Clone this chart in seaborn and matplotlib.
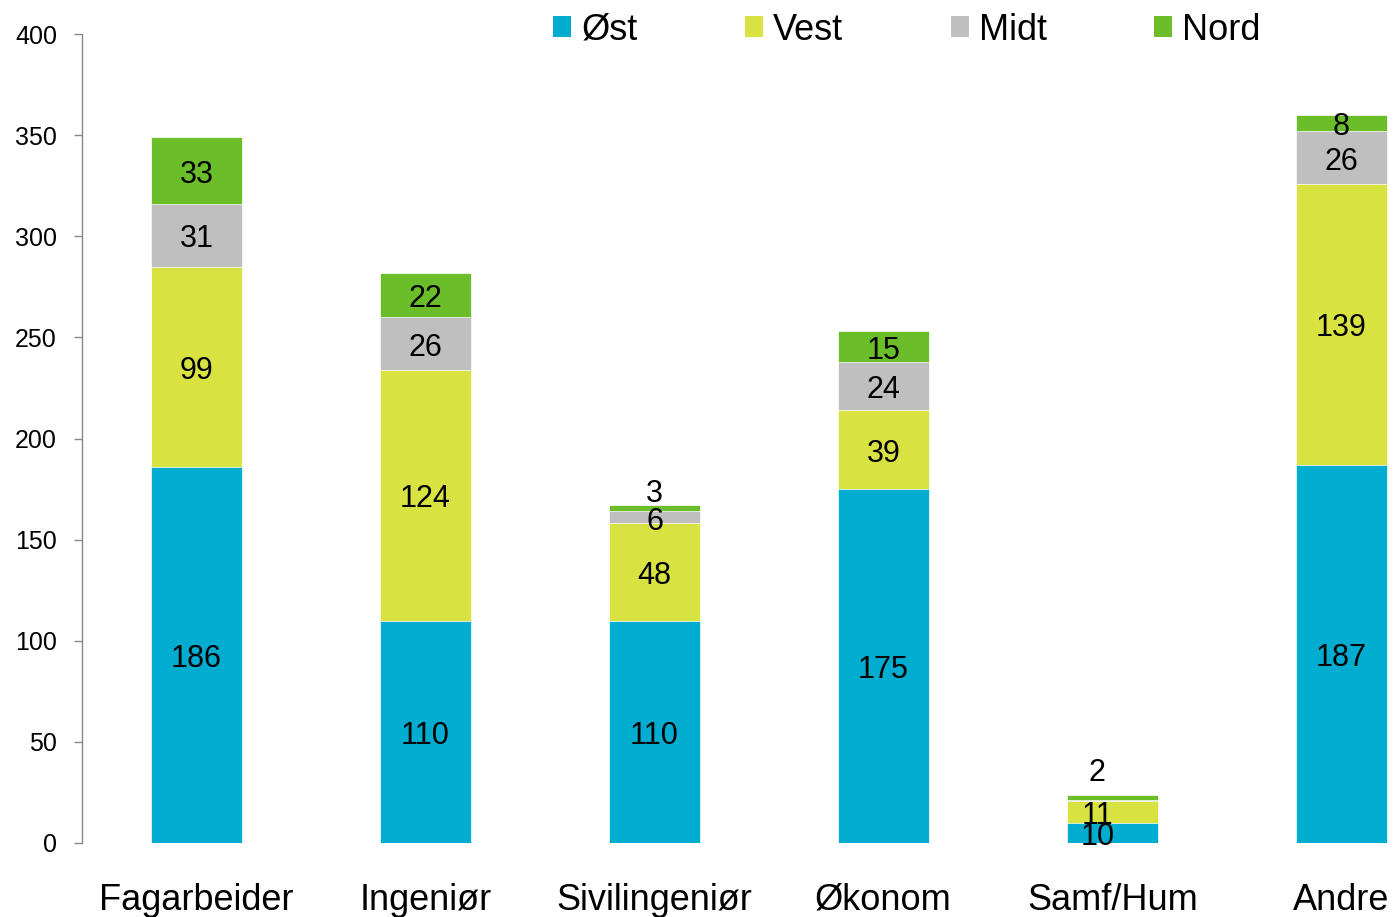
import numpy as np
import matplotlib.pyplot as plt
import seaborn as sns
import pandas as pd
from matplotlib.patches import Patch

sns.set_style("white")
plt.rcParams["font.family"] = ["Liberation Sans", "DejaVu Sans"]
plt.rcParams["text.color"] = "black"
plt.rcParams["xtick.labelcolor"] = "black"
plt.rcParams["ytick.labelcolor"] = "black"

categories = ["Fagarbeider", "Ingeniør", "Sivilingeniør", "Økonom", "Samf/Hum", "Andre"]
ost = [186, 110, 110, 175, 10, 187]
vest = [99, 124, 48, 39, 11, 139]
midt = [31, 26, 6, 24, 0.5, 26]
nord = [33, 22, 3, 15, 2, 8]
series = ["Øst", "Vest", "Midt", "Nord"]
colors = ["#00ACD0", "#D8E342", "#BFBFBF", "#6BBE2A"]

# labels of small top segments sit above the bar (offset in points)
above_offset = {"Sivilingeniør": 8, "Samf/Hum": 16}
# the Samf/Hum labels are nudged left in the original
label_dx = {"Samf/Hum": -11}

df = pd.DataFrame({"Øst": ost, "Vest": vest, "Midt": midt, "Nord": nord}, index=categories)
tops = df.cumsum(axis=1)
bottoms = tops - df

fig = plt.figure(figsize=(13.94, 9.17), dpi=100)
ax = fig.add_axes([82 / 1394, 74 / 917, 6 * 229 / 1394, 809 / 917])

# draw the stacks from the tallest cumulative down so each one shows
for s, c in reversed(list(zip(series, colors))):
    sns.barplot(x=categories, y=tops[s].values, color=c, width=0.4,
                edgecolor="white", linewidth=0.5, saturation=1, ax=ax)

for i, cat in enumerate(categories):
    dx = label_dx.get(cat, 0)
    for s in series:
        v = df.loc[cat, s]
        if v < 1:
            continue
        if v < 5 and s == "Nord":
            ax.annotate(f"{v:g}", (i, tops.loc[cat, s]), xytext=(dx, above_offset[cat]),
                        textcoords="offset points", ha="center", va="center", fontsize=22)
        else:
            y = bottoms.loc[cat, s] + v / 2
            ax.annotate(f"{v:g}", (i, y), xytext=(dx, -3), textcoords="offset points",
                        ha="center", va="center", fontsize=22)

ax.set_xlim(-0.5, 5.5)
ax.set_ylim(0, 400)
ax.set_yticks(np.arange(0, 401, 50))
sns.despine(ax=ax, bottom=True)
ax.spines["left"].set_color("#888888")
ax.spines["left"].set_linewidth(1)
ax.tick_params(axis="y", left=True, length=6, width=1, color="#888888", labelsize=18, pad=12)
ax.tick_params(axis="x", bottom=False, labelsize=26, pad=25)
ax.set_xlabel("")
ax.set_ylabel("")

handles = [Patch(facecolor=c, edgecolor="none") for c in colors]
fig.legend(handles, series, loc="center", bbox_to_anchor=(907 / 1394, 1 - 30 / 917),
           ncol=4, frameon=False, fontsize=26, handlelength=0.5, handleheight=0.5,
           handletextpad=0.28, columnspacing=2.97)

fig.savefig("out.png", dpi=100)
